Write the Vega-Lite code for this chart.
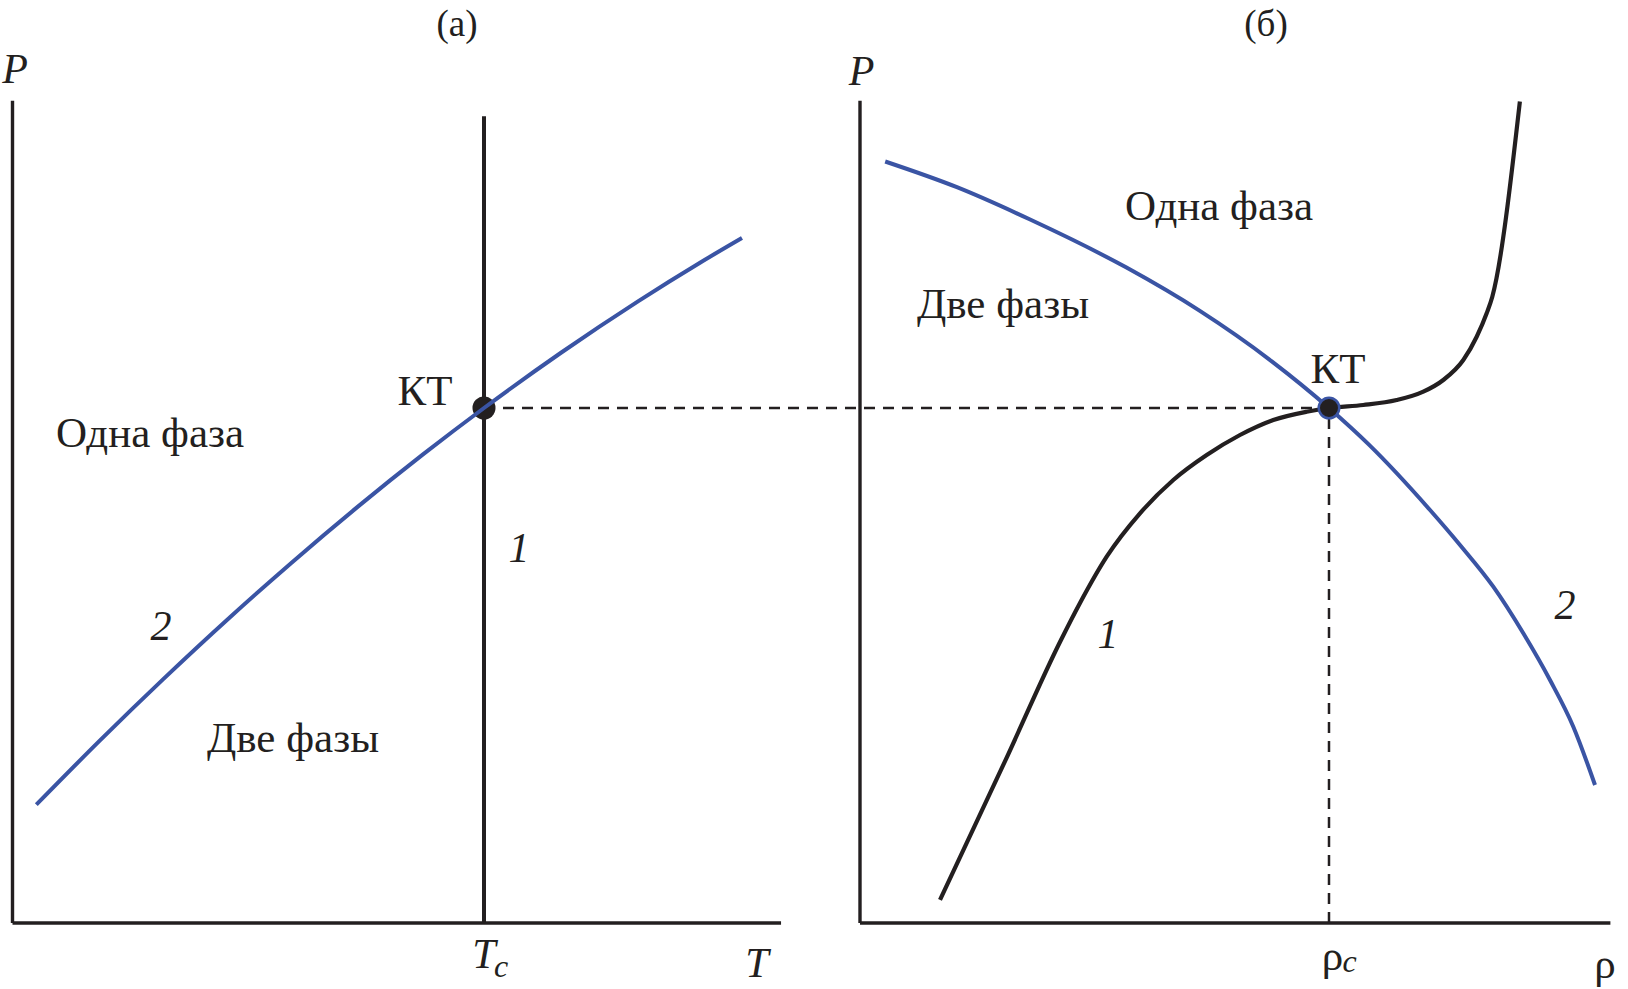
{
  "$schema": "https://vega.github.io/schema/vega-lite/v6.json",
  "width": 1628,
  "height": 989,
  "autosize": {"type": "none"},
  "padding": 0,
  "background": "white",
  "config": {"view": {"stroke": null}},
  "datasets": {
    "leftAxes": [
      {"T": 0, "P": 0, "T2": 0, "P2": 1.5967},
      {"T": 0, "P": 0, "T2": 1.63, "P2": 0}
    ],
    "leftIsotherm": [{"T": 1, "P": 0, "T2": 1, "P2": 1.5664}],
    "leftDash": [{"T": 1, "P": 1, "T2": 2.7922, "P2": 1}],
    "leftPoint": [{"T": 1, "P": 1}],
    "leftCurve": [
      {"T": 0.0505, "P": 0.2297},
      {"T": 0.1856, "P": 0.3546},
      {"T": 0.3192, "P": 0.4731},
      {"T": 0.4613, "P": 0.5938},
      {"T": 0.5907, "P": 0.6987},
      {"T": 0.7306, "P": 0.807},
      {"T": 0.8706, "P": 0.9098},
      {"T": 1.0, "P": 1.0},
      {"T": 1.1633, "P": 1.1073},
      {"T": 1.3266, "P": 1.2071},
      {"T": 1.4581, "P": 1.2821},
      {"T": 1.5472, "P": 1.3301}
    ],
    "leftLabels": [
      {"text": "(а)", "T": 0.9427, "P": 1.7223, "role": "panel"},
      {"text": "Одна фаза", "T": 0.2916, "P": 0.9243, "role": "region"},
      {"text": "Две фазы", "T": 0.5949, "P": 0.332, "role": "region"},
      {"text": "КТ", "T": 0.8749, "P": 1.0058, "role": "point"},
      {"text": "1", "T": 1.0742, "P": 0.701, "role": "curve"},
      {"text": "2", "T": 0.315, "P": 0.5495, "role": "curve"},
      {"text": "P", "T": 0.0053, "P": 1.6311, "role": "axis"},
      {"text": "T", "T": 1.579, "P": -0.1049, "role": "axis"},
      {"text": "T", "T": 1.0, "P": -0.0874, "role": "axis"},
      {"text": "c", "T": 1.0361, "P": -0.1049, "role": "sub"}
    ],
    "rightAxes": [
      {"rho": 0, "P": 0, "rho2": 0, "P2": 1.5967},
      {"rho": 0, "P": 0, "rho2": 1.6, "P2": 0}
    ],
    "rightDash": [{"rho": 1, "P": 0, "rho2": 1, "P2": 1}],
    "rightPoint": [{"rho": 1, "P": 1}],
    "rightCurve2": [
      {"rho": 0.0537, "P": 1.4786},
      {"rho": 0.2066, "P": 1.4287},
      {"rho": 0.3616, "P": 1.3664},
      {"rho": 0.5682, "P": 1.2726},
      {"rho": 0.723, "P": 1.1895},
      {"rho": 0.878, "P": 1.0907},
      {"rho": 1.0, "P": 1.0},
      {"rho": 1.0846, "P": 0.9293},
      {"rho": 1.2154, "P": 0.8019},
      {"rho": 1.2793, "P": 0.734},
      {"rho": 1.3503, "P": 0.653},
      {"rho": 1.4143, "P": 0.5625},
      {"rho": 1.4712, "P": 0.4718},
      {"rho": 1.5209, "P": 0.3812},
      {"rho": 1.5672, "P": 0.268}
    ],
    "rightCurve1": [
      {"rho": 0.1706, "P": 0.0447},
      {"rho": 0.3098, "P": 0.3153},
      {"rho": 0.4264, "P": 0.5456},
      {"rho": 0.4691, "P": 0.6214},
      {"rho": 0.526, "P": 0.7113},
      {"rho": 0.597, "P": 0.7955},
      {"rho": 0.668, "P": 0.8602},
      {"rho": 0.7392, "P": 0.9087},
      {"rho": 0.8102, "P": 0.9476},
      {"rho": 0.8812, "P": 0.9767},
      {"rho": 0.9524, "P": 0.9928},
      {"rho": 1.0, "P": 1.0},
      {"rho": 1.0731, "P": 1.0058},
      {"rho": 1.1443, "P": 1.0155},
      {"rho": 1.2011, "P": 1.0317},
      {"rho": 1.2437, "P": 1.0544},
      {"rho": 1.2864, "P": 1.0932},
      {"rho": 1.3149, "P": 1.1384},
      {"rho": 1.3362, "P": 1.1839},
      {"rho": 1.3482, "P": 1.2161},
      {"rho": 1.407, "P": 1.5953}
    ],
    "rightLabels": [
      {"text": "(б)", "rho": 0.8657, "P": 1.7223, "role": "panel"},
      {"text": "Одна фаза", "rho": 0.7655, "P": 1.3643, "role": "region"},
      {"text": "Две фазы", "rho": 0.3049, "P": 1.1748, "role": "region"},
      {"text": "КТ", "rho": 1.0192, "P": 1.0485, "role": "point"},
      {"text": "1", "rho": 0.5288, "P": 0.534, "role": "curve"},
      {"text": "2", "rho": 1.5032, "P": 0.5911, "role": "curve"},
      {"text": "P", "rho": 0.0032, "P": 1.6272, "role": "axis"},
      {"text": "ρ", "rho": 1.5885, "P": -0.1068, "role": "greek"},
      {"text": "ρ", "rho": 1.0075, "P": -0.0913, "role": "greek"},
      {"text": "c", "rho": 1.0437, "P": -0.0951, "role": "sub"}
    ]
  },
  "resolve": {"scale": {"x": "independent"}},
  "layer": [
    {
      "layer": [
        {
          "data": {"name": "leftAxes"},
          "mark": {"type": "rule", "color": "#231f20", "strokeWidth": 3.4},
          "encoding": {
            "x": {"field": "T", "type": "quantitative", "axis": null, "scale": {"domain": [-0.02651, 3.4263], "nice": false, "zero": false}},
            "x2": {"field": "T2"},
            "y": {"field": "P", "type": "quantitative", "axis": null, "scale": {"domain": [-0.12816, 1.79223], "nice": false, "zero": false}},
            "y2": {"field": "P2"}
          }
        },
        {
          "data": {"name": "leftIsotherm"},
          "mark": {"type": "rule", "color": "#231f20", "strokeWidth": 4},
          "encoding": {
            "x": {"field": "T", "type": "quantitative", "axis": null, "scale": {"domain": [-0.02651, 3.4263], "nice": false, "zero": false}},
            "x2": {"field": "T2"},
            "y": {"field": "P", "type": "quantitative", "axis": null, "scale": {"domain": [-0.12816, 1.79223], "nice": false, "zero": false}},
            "y2": {"field": "P2"}
          }
        },
        {
          "data": {"name": "leftDash"},
          "mark": {"type": "rule", "color": "#231f20", "strokeWidth": 2.5, "strokeDash": [11, 8]},
          "encoding": {
            "x": {"field": "T", "type": "quantitative", "axis": null, "scale": {"domain": [-0.02651, 3.4263], "nice": false, "zero": false}},
            "x2": {"field": "T2"},
            "y": {"field": "P", "type": "quantitative", "axis": null, "scale": {"domain": [-0.12816, 1.79223], "nice": false, "zero": false}},
            "y2": {"field": "P2"}
          }
        },
        {
          "data": {"name": "leftPoint"},
          "mark": {"type": "point", "shape": "circle", "filled": true, "color": "#231f20", "opacity": 1, "size": 530},
          "encoding": {
            "x": {"field": "T", "type": "quantitative", "axis": null, "scale": {"domain": [-0.02651, 3.4263], "nice": false, "zero": false}},
            "y": {"field": "P", "type": "quantitative", "axis": null, "scale": {"domain": [-0.12816, 1.79223], "nice": false, "zero": false}}
          }
        },
        {
          "data": {"name": "leftCurve"},
          "mark": {"type": "line", "color": "#3a54a4", "strokeWidth": 4, "interpolate": "monotone"},
          "encoding": {
            "x": {"field": "T", "type": "quantitative", "axis": null, "scale": {"domain": [-0.02651, 3.4263], "nice": false, "zero": false}},
            "y": {"field": "P", "type": "quantitative", "axis": null, "scale": {"domain": [-0.12816, 1.79223], "nice": false, "zero": false}}
          }
        },
        {
          "data": {"name": "leftLabels"},
          "transform": [{"filter": "datum.role === 'region' || datum.role === 'point'"}],
          "mark": {"type": "text", "font": "Liberation Serif", "fontSize": 43, "align": "center", "baseline": "alphabetic", "color": "#231f20"},
          "encoding": {
            "x": {"field": "T", "type": "quantitative", "axis": null, "scale": {"domain": [-0.02651, 3.4263], "nice": false, "zero": false}},
            "y": {"field": "P", "type": "quantitative", "axis": null, "scale": {"domain": [-0.12816, 1.79223], "nice": false, "zero": false}},
            "text": {"field": "text"}
          }
        },
        {
          "data": {"name": "leftLabels"},
          "transform": [{"filter": "datum.role === 'panel'"}],
          "mark": {"type": "text", "font": "Liberation Serif", "fontSize": 37, "align": "center", "baseline": "alphabetic", "color": "#231f20"},
          "encoding": {
            "x": {"field": "T", "type": "quantitative", "axis": null, "scale": {"domain": [-0.02651, 3.4263], "nice": false, "zero": false}},
            "y": {"field": "P", "type": "quantitative", "axis": null, "scale": {"domain": [-0.12816, 1.79223], "nice": false, "zero": false}},
            "text": {"field": "text"}
          }
        },
        {
          "data": {"name": "leftLabels"},
          "transform": [{"filter": "datum.role === 'curve' || datum.role === 'axis'"}],
          "mark": {"type": "text", "font": "Liberation Serif", "fontStyle": "italic", "fontSize": 42, "align": "center", "baseline": "alphabetic", "color": "#231f20"},
          "encoding": {
            "x": {"field": "T", "type": "quantitative", "axis": null, "scale": {"domain": [-0.02651, 3.4263], "nice": false, "zero": false}},
            "y": {"field": "P", "type": "quantitative", "axis": null, "scale": {"domain": [-0.12816, 1.79223], "nice": false, "zero": false}},
            "text": {"field": "text"}
          }
        },
        {
          "data": {"name": "leftLabels"},
          "transform": [{"filter": "datum.role === 'sub'"}],
          "mark": {"type": "text", "font": "Liberation Serif", "fontStyle": "italic", "fontSize": 32, "align": "center", "baseline": "alphabetic", "color": "#231f20"},
          "encoding": {
            "x": {"field": "T", "type": "quantitative", "axis": null, "scale": {"domain": [-0.02651, 3.4263], "nice": false, "zero": false}},
            "y": {"field": "P", "type": "quantitative", "axis": null, "scale": {"domain": [-0.12816, 1.79223], "nice": false, "zero": false}},
            "text": {"field": "text"}
          }
        }
      ]
    },
    {
      "layer": [
        {
          "data": {"name": "rightAxes"},
          "mark": {"type": "rule", "color": "#231f20", "strokeWidth": 3.4},
          "encoding": {
            "x": {"field": "rho", "type": "quantitative", "axis": null, "scale": {"domain": [-1.83369, 1.63753], "nice": false, "zero": false}},
            "x2": {"field": "rho2"},
            "y": {"field": "P", "type": "quantitative", "axis": null, "scale": {"domain": [-0.12816, 1.79223], "nice": false, "zero": false}},
            "y2": {"field": "P2"}
          }
        },
        {
          "data": {"name": "rightDash"},
          "mark": {"type": "rule", "color": "#231f20", "strokeWidth": 2.5, "strokeDash": [11, 8]},
          "encoding": {
            "x": {"field": "rho", "type": "quantitative", "axis": null, "scale": {"domain": [-1.83369, 1.63753], "nice": false, "zero": false}},
            "x2": {"field": "rho2"},
            "y": {"field": "P", "type": "quantitative", "axis": null, "scale": {"domain": [-0.12816, 1.79223], "nice": false, "zero": false}},
            "y2": {"field": "P2"}
          }
        },
        {
          "data": {"name": "rightCurve2"},
          "mark": {"type": "line", "color": "#3a54a4", "strokeWidth": 4, "interpolate": "monotone"},
          "encoding": {
            "x": {"field": "rho", "type": "quantitative", "axis": null, "scale": {"domain": [-1.83369, 1.63753], "nice": false, "zero": false}},
            "y": {"field": "P", "type": "quantitative", "axis": null, "scale": {"domain": [-0.12816, 1.79223], "nice": false, "zero": false}}
          }
        },
        {
          "data": {"name": "rightCurve1"},
          "mark": {"type": "line", "color": "#231f20", "strokeWidth": 4.2, "interpolate": "monotone"},
          "encoding": {
            "x": {"field": "rho", "type": "quantitative", "axis": null, "scale": {"domain": [-1.83369, 1.63753], "nice": false, "zero": false}},
            "y": {"field": "P", "type": "quantitative", "axis": null, "scale": {"domain": [-0.12816, 1.79223], "nice": false, "zero": false}}
          }
        },
        {
          "data": {"name": "rightPoint"},
          "mark": {"type": "point", "shape": "circle", "filled": true, "fill": "#231f20", "stroke": "#3a54a4", "strokeWidth": 2.5, "opacity": 1, "size": 420},
          "encoding": {
            "x": {"field": "rho", "type": "quantitative", "axis": null, "scale": {"domain": [-1.83369, 1.63753], "nice": false, "zero": false}},
            "y": {"field": "P", "type": "quantitative", "axis": null, "scale": {"domain": [-0.12816, 1.79223], "nice": false, "zero": false}}
          }
        },
        {
          "data": {"name": "rightLabels"},
          "transform": [{"filter": "datum.role === 'region' || datum.role === 'point' || datum.role === 'greek'"}],
          "mark": {"type": "text", "font": "Liberation Serif", "fontSize": 43, "align": "center", "baseline": "alphabetic", "color": "#231f20"},
          "encoding": {
            "x": {"field": "rho", "type": "quantitative", "axis": null, "scale": {"domain": [-1.83369, 1.63753], "nice": false, "zero": false}},
            "y": {"field": "P", "type": "quantitative", "axis": null, "scale": {"domain": [-0.12816, 1.79223], "nice": false, "zero": false}},
            "text": {"field": "text"}
          }
        },
        {
          "data": {"name": "rightLabels"},
          "transform": [{"filter": "datum.role === 'panel'"}],
          "mark": {"type": "text", "font": "Liberation Serif", "fontSize": 37, "align": "center", "baseline": "alphabetic", "color": "#231f20"},
          "encoding": {
            "x": {"field": "rho", "type": "quantitative", "axis": null, "scale": {"domain": [-1.83369, 1.63753], "nice": false, "zero": false}},
            "y": {"field": "P", "type": "quantitative", "axis": null, "scale": {"domain": [-0.12816, 1.79223], "nice": false, "zero": false}},
            "text": {"field": "text"}
          }
        },
        {
          "data": {"name": "rightLabels"},
          "transform": [{"filter": "datum.role === 'curve' || datum.role === 'axis'"}],
          "mark": {"type": "text", "font": "Liberation Serif", "fontStyle": "italic", "fontSize": 42, "align": "center", "baseline": "alphabetic", "color": "#231f20"},
          "encoding": {
            "x": {"field": "rho", "type": "quantitative", "axis": null, "scale": {"domain": [-1.83369, 1.63753], "nice": false, "zero": false}},
            "y": {"field": "P", "type": "quantitative", "axis": null, "scale": {"domain": [-0.12816, 1.79223], "nice": false, "zero": false}},
            "text": {"field": "text"}
          }
        },
        {
          "data": {"name": "rightLabels"},
          "transform": [{"filter": "datum.role === 'sub'"}],
          "mark": {"type": "text", "font": "Liberation Serif", "fontStyle": "italic", "fontSize": 32, "align": "center", "baseline": "alphabetic", "color": "#231f20"},
          "encoding": {
            "x": {"field": "rho", "type": "quantitative", "axis": null, "scale": {"domain": [-1.83369, 1.63753], "nice": false, "zero": false}},
            "y": {"field": "P", "type": "quantitative", "axis": null, "scale": {"domain": [-0.12816, 1.79223], "nice": false, "zero": false}},
            "text": {"field": "text"}
          }
        }
      ]
    }
  ]
}
